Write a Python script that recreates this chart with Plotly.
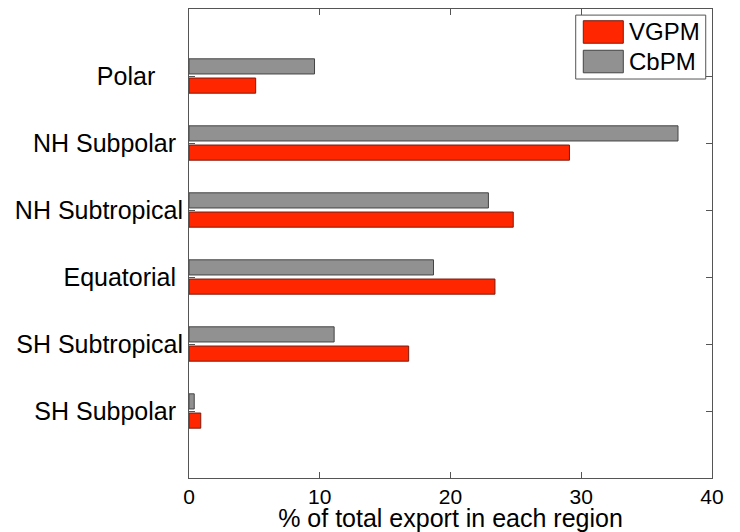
import plotly.graph_objects as go

# Data (bottom to top order on the axis)
regions = ["SH Subpolar", "SH Subtropical", "Equatorial", "NH Subtropical", "NH Subpolar", "Polar"]
tick_labels = ["SH Subpolar\u00a0", "SH Subtropical", "Equatorial\u00a0", "NH Subtropical",
               "NH Subpolar\u00a0", "Polar\u00a0\u00a0\u00a0\u00a0"]
vgpm = [0.9, 16.8, 23.4, 24.8, 29.1, 5.1]
cbpm = [0.4, 11.1, 18.7, 22.9, 37.4, 9.6]
x_ticks = [0, 10, 20, 30, 40]

series_names = ["VGPM", "CbPM"]
fill_colors = ["#ff2600", "#919191"]
edge_colors = ["#7a1c10", "#444444"]

FONT = "Liberation Sans, Arial, Helvetica, sans-serif"

fig = go.Figure()
for name, vals, fc, ec in zip(series_names, [vgpm, cbpm], fill_colors, edge_colors):
    fig.add_trace(go.Bar(
        x=vals, y=regions, orientation="h", name=name,
        marker=dict(color=fc, line=dict(color=ec, width=1)),
        showlegend=False,
    ))

# Custom MATLAB-like legend (swatches + text) in paper coordinates
lx0, lx1, ly_top, ly_bot = 0.7394, 0.988, 0.987, 0.8507
fig.add_shape(type="rect", xref="paper", yref="paper", x0=lx0, x1=lx1, y0=ly_bot, y1=ly_top,
              line=dict(color="#555555", width=1), fillcolor="white", layer="above")
row_centers = [0.951, 0.888]
sw_h = 0.048
for name, fc, ec, yc in zip(series_names, fill_colors, edge_colors, row_centers):
    fig.add_shape(type="rect", xref="paper", yref="paper", x0=0.7539, x1=0.8304,
                  y0=yc - sw_h / 2, y1=yc + sw_h / 2,
                  line=dict(color=ec, width=1), fillcolor=fc, layer="above")
    fig.add_annotation(xref="paper", yref="paper", x=0.8375, y=yc, text=name,
                       showarrow=False, xanchor="left", yanchor="middle",
                       font=dict(family=FONT, size=24, color="black"))

fig.update_layout(
    width=732, height=524,
    margin=dict(l=181, r=28, t=1, b=54),
    paper_bgcolor="white", plot_bgcolor="white",
    barmode="group", bargap=0.427, bargroupgap=0.21,
    font=dict(family=FONT, color="black"),
)
fig.update_xaxes(
    range=[0, 40], tickvals=x_ticks, ticktext=[str(v) for v in x_ticks],
    showgrid=False, zeroline=False,
    showline=True, linecolor="#555555", linewidth=1, mirror="ticks",
    ticks="inside", ticklen=6, tickcolor="#555555",
    tickfont=dict(family=FONT, size=21, color="black"),
    title=dict(text="% of total export in each region", standoff=1,
               font=dict(family=FONT, size=25, color="black")),
)
fig.update_yaxes(
    type="category", categoryorder="array", categoryarray=regions,
    range=[-1, 6], tickvals=regions, ticktext=tick_labels,
    showgrid=False, zeroline=False,
    showline=True, linecolor="#555555", linewidth=1, mirror="ticks",
    ticks="inside", ticklen=6, tickcolor="#555555",
    tickfont=dict(family=FONT, size=25, color="black"),
    ticklabelstandoff=0,
)

fig.write_html("out.html")
